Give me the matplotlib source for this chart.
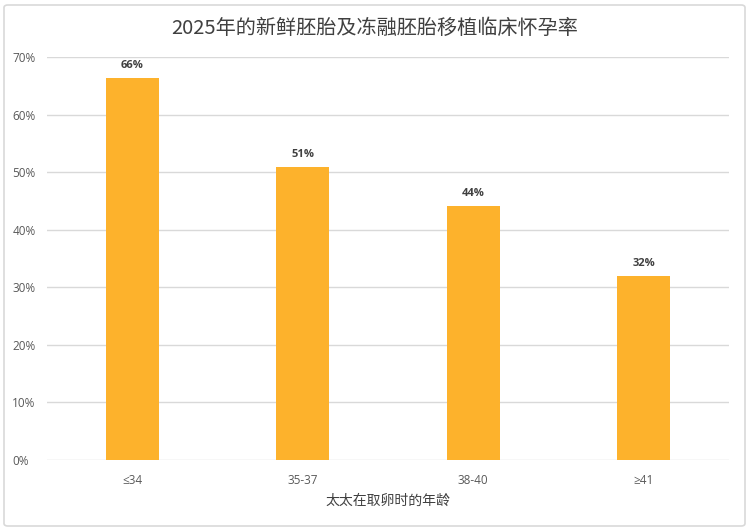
import matplotlib
matplotlib.use('Agg')
import matplotlib.pyplot as plt
from matplotlib.patches import FancyBboxPatch

plt.rcParams['font.family'] = ['Noto Sans CJK SC', 'DejaVu Sans']

ages = ['≤34', '35-37', '38-40', '≥41']
rates = [66.3, 50.9, 44.2, 32.0]
labels = ['66%', '51%', '44%', '32%']

fig = plt.figure(figsize=(7.5, 5.3), dpi=100)
ax = fig.add_axes([47 / 750, 1 - 460 / 530, 682 / 750, 403 / 530])

# outer frame like the spreadsheet chart
fig.patches.append(FancyBboxPatch((4 / 750, 4 / 530), 741 / 750, 521 / 530,
                                  boxstyle='round,pad=0,rounding_size=0.005',
                                  transform=fig.transFigure, fill=False,
                                  edgecolor='#D9D9D9', linewidth=1.2))

num_font = ['Open Sans', 'DejaVu Sans']

x = range(len(ages))
bars = ax.bar(x, rates, width=0.31, color='#FDB22C', zorder=3)
for b, lab in zip(bars, labels):
    ax.text(b.get_x() + b.get_width() / 2, b.get_height() + 1.2, lab,
            ha='center', va='bottom', fontsize=8, fontweight='bold',
            color='#404040', family=num_font)

ax.set_xlim(-0.5, len(ages) - 0.5)
ax.set_ylim(0, 70)
ax.set_yticks(range(0, 71, 10))
ax.set_yticklabels([f'{v}%' for v in range(0, 71, 10)], family=num_font)
ax.set_xticks(list(x))
ax.set_xticklabels(ages, family=num_font)
ax.tick_params(axis='both', length=0, labelsize=8.5, colors='#595959')
ax.tick_params(axis='x', pad=10)
ax.tick_params(axis='y', pad=25)
for lab in ax.get_yticklabels():
    lab.set_horizontalalignment('left')
ax.grid(axis='y', color='#D9D9D9', linewidth=1, zorder=0)
for s in ax.spines.values():
    s.set_visible(False)

ax.set_xlabel('太太在取卵时的年龄', fontsize=10, color='#404040', labelpad=5)
fig.text(0.5, 1 - 28 / 530, '2025年的新鲜胚胎及冻融胚胎移植临床怀孕率',
         ha='center', va='center', fontsize=14.5, color='#404040')

fig.savefig('out.png', dpi=100)
